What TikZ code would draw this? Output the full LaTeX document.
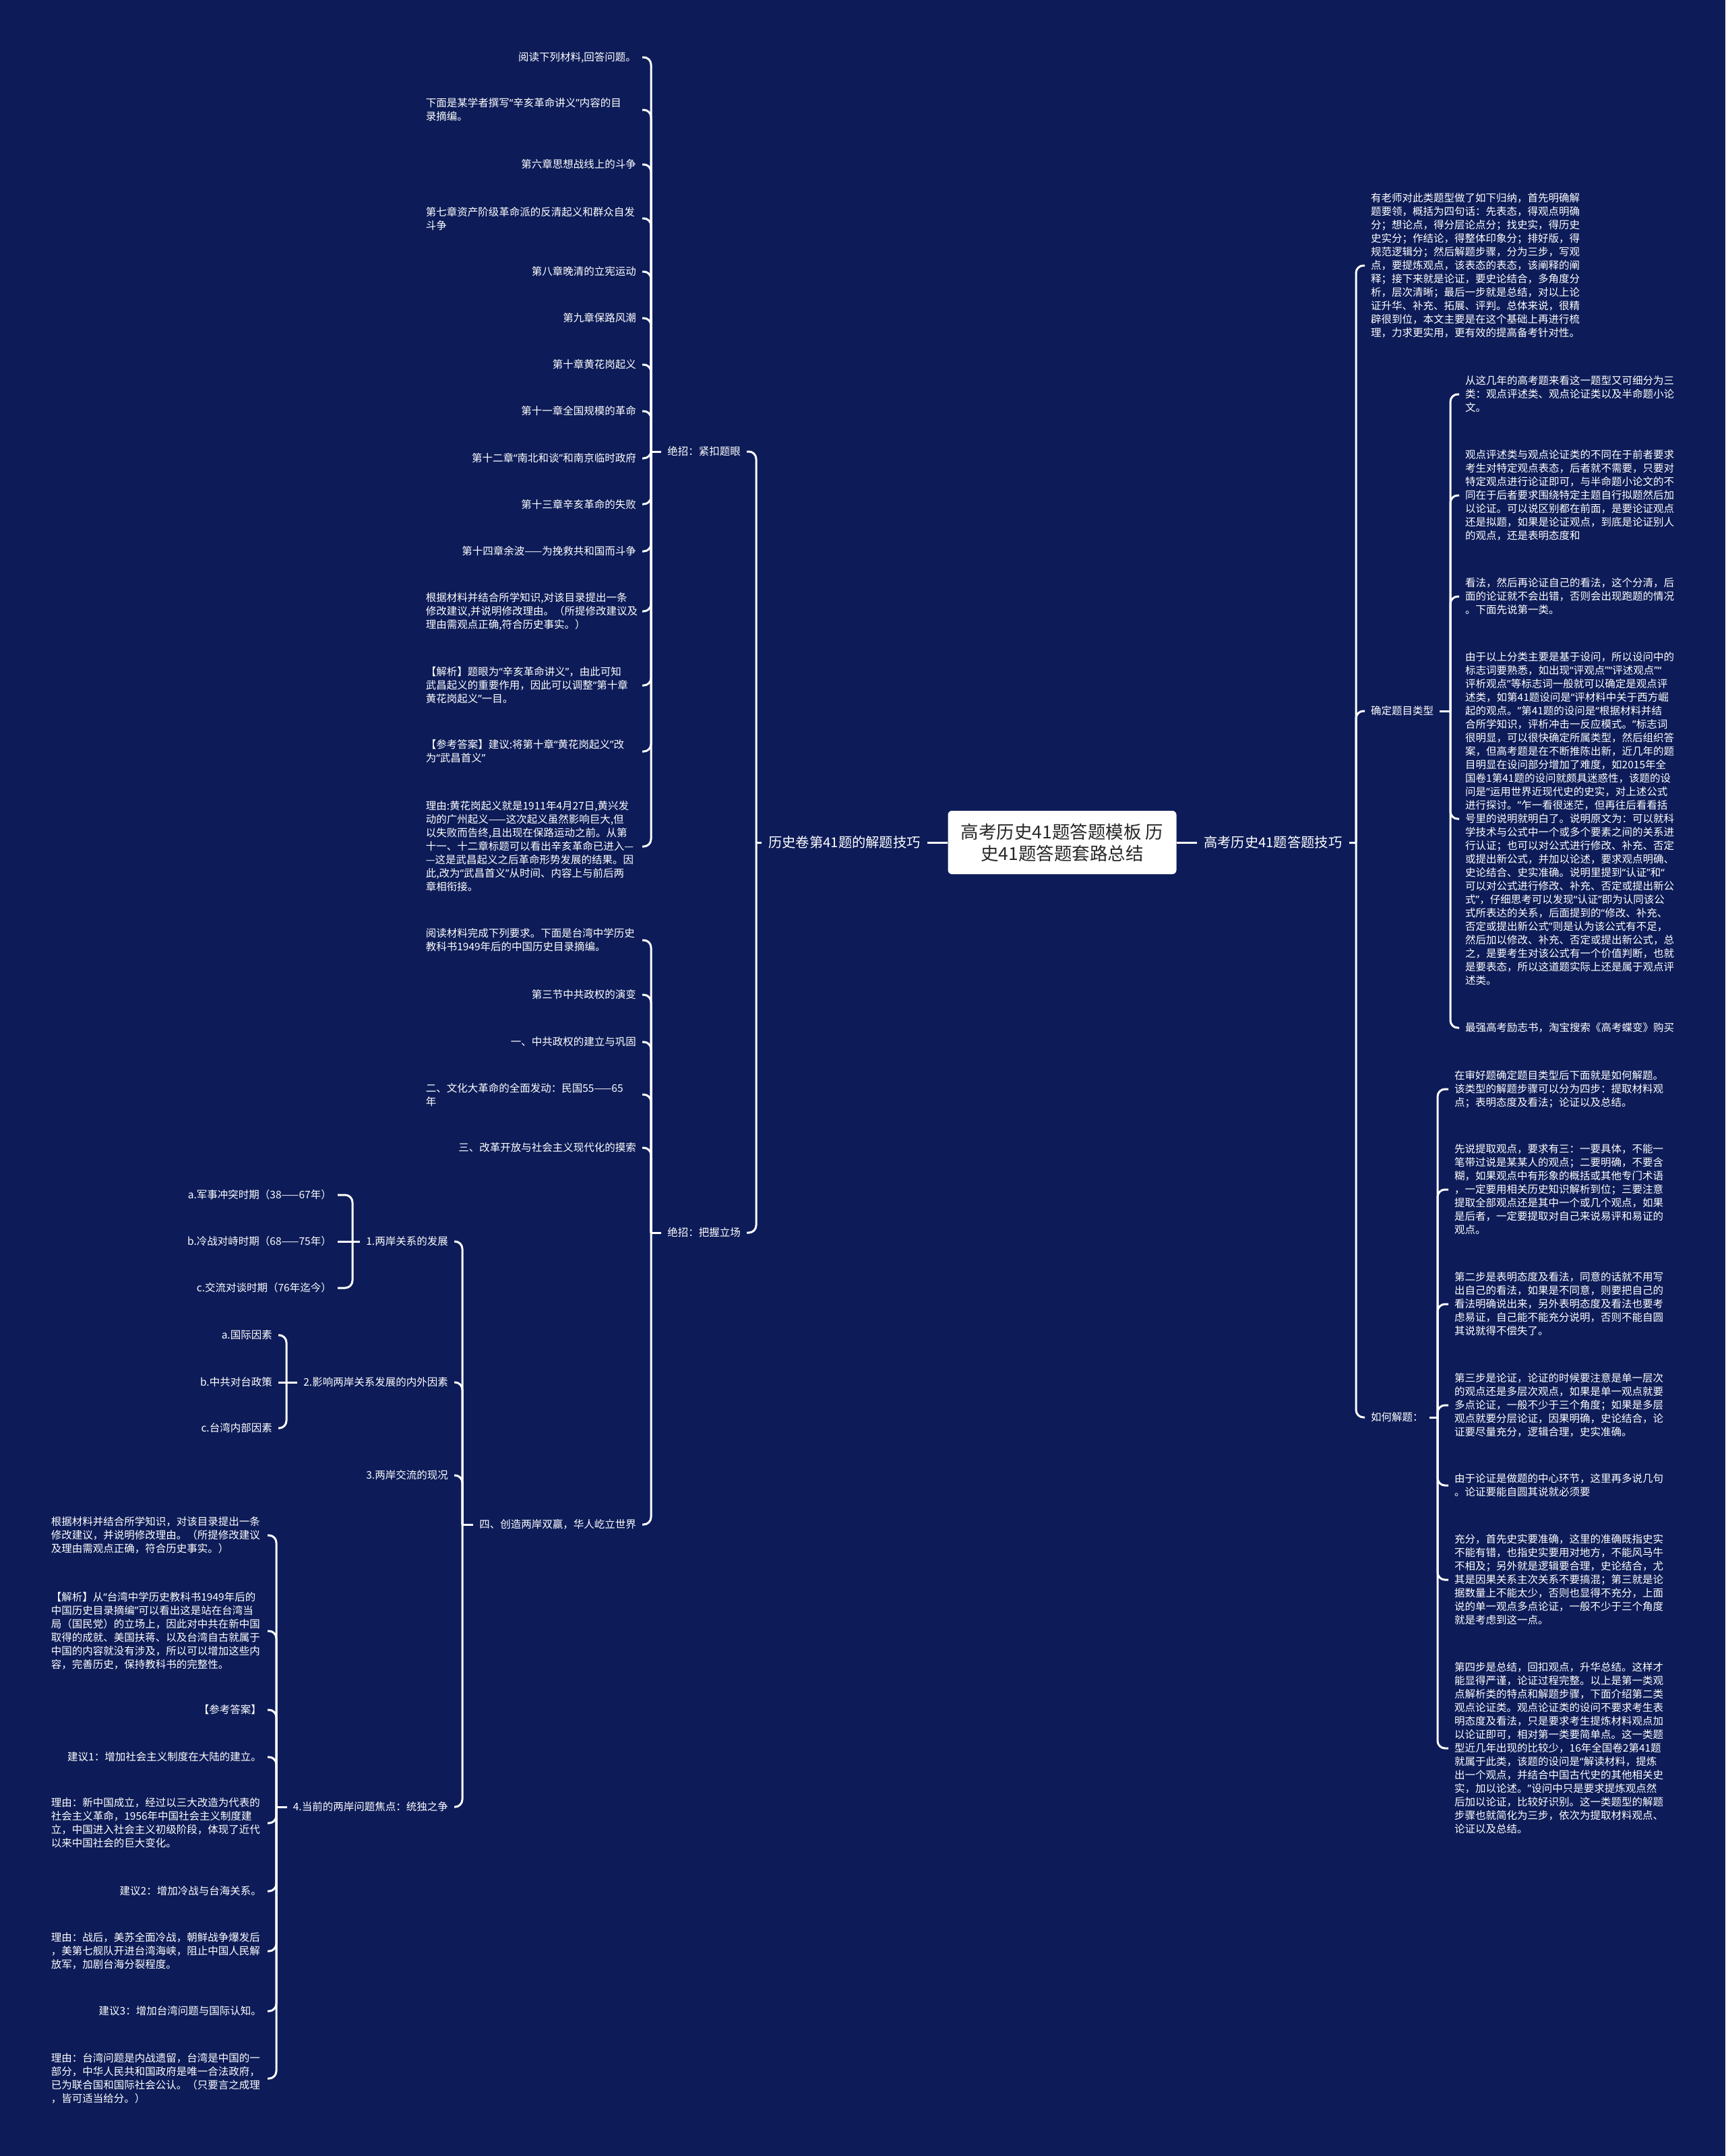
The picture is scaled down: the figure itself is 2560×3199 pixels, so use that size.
\documentclass[tikz,border=0pt]{standalone}
\usepackage{fontspec}
\newfontfamily\cjk{Noto Sans CJK SC}
\newfontfamily\qfont{Noto Sans}
\definecolor{bgblue}{RGB}{13,28,88}
\definecolor{boxtext}{RGB}{40,40,40}
\catcode`“=\active
\catcode`”=\active
\def“{{\qfont\char"201C}}
\def”{{\qfont\char"201D}}
\begin{document}
\begin{tikzpicture}[x=1pt,y=-1pt,
  every node/.style={text=white},
  base/.style={font=\cjk\fontsize{15.5}{20}\selectfont, inner xsep=9pt, inner ysep=2pt, align=left},
  lt/.style={base, anchor=east},
  ltm/.style={base, anchor=east, text width=312pt},
  rt/.style={base, anchor=west},
  lvl/.style={font=\cjk\fontsize{20.3}{24}\selectfont, inner xsep=10pt},
  conn/.style={draw=white, line width=3pt, rounded corners=11pt},
]
\fill[bgblue] (0,0) rectangle (2560,3199);
\useasboundingbox (0,0) rectangle (2560,3199);

% root
\node[fill=white, rounded corners=6pt, minimum width=339pt, minimum height=94pt, align=center, text=boxtext, font=\cjk\fontsize{26.5}{32}\selectfont] (root) at (1576,1250) {高考历史41题答题模板 历\\史41题答题套路总结};

% level 1
\node[lvl, anchor=east] (L) at (1376,1250) {历史卷第41题的解题技巧};
\node[lvl, anchor=west] (R) at (1776,1250) {高考历史41题答题技巧};
\coordinate (jL) at (1122,1250);
\coordinate (jR) at (2012,1250);
\draw[conn] (root.west) -- (L.east);
\draw[conn] (L.west) -- (jL);
\draw[conn] (root.east) -- (R.west);
\draw[conn] (R.east) -- (jR);

% level 2 left
\node[lt] (K) at (1108,670) {绝招：紧扣题眼};
\node[lt] (B) at (1108,1829) {绝招：把握立场};
\draw[conn] (jL) |- (K.east);
\draw[conn] (jL) |- (B.east);
\coordinate (jK) at (966,670);
\coordinate (jB) at (966,1829);
\draw[conn] (K.west) -- (jK);
\draw[conn] (B.west) -- (jB);

% children of K
\node[lt] (k1) at (953,85) {阅读下列材料,回答问题。};
\node[ltm] (k2) at (953,163) {下面是某学者撰写“辛亥革命讲义”内容的目\\录摘编。};
\node[lt] (k3) at (953,244) {第六章思想战线上的斗争};
\node[ltm] (k4) at (953,324) {第七章资产阶级革命派的反清起义和群众自发\\斗争};
\node[lt] (k5) at (953,403) {第八章晚清的立宪运动};
\node[lt] (k6) at (953,472) {第九章保路风潮};
\node[lt] (k7) at (953,541) {第十章黄花岗起义};
\node[lt] (k8) at (953,610) {第十一章全国规模的革命};
\node[lt] (k9) at (953,680) {第十二章“南北和谈”和南京临时政府};
\node[lt] (k10) at (953,748) {第十三章辛亥革命的失败};
\node[lt] (k11) at (953,818) {第十四章余波——为挽救共和国而斗争};
\node[ltm] (k12) at (953,907) {根据材料并结合所学知识,对该目录提出一条\\修改建议,并说明修改理由。（所提修改建议及\\理由需观点正确,符合历史事实。）};
\node[ltm] (k13) at (953,1017) {【解析】题眼为“辛亥革命讲义”，由此可知\\武昌起义的重要作用，因此可以调整“第十章\\黄花岗起义”一目。};
\node[ltm] (k14) at (953,1115) {【参考答案】建议:将第十章“黄花岗起义”改\\为“武昌首义”};
\node[ltm] (k15) at (953,1256) {理由:黄花岗起义就是1911年4月27日,黄兴发\\动的广州起义——这次起义虽然影响巨大,但\\以失败而告终,且出现在保路运动之前。从第\\十一、十二章标题可以看出辛亥革命已进入—\\—这是武昌起义之后革命形势发展的结果。因\\此,改为“武昌首义”从时间、内容上与前后两\\章相衔接。};
\foreach \n in {k1,k2,k3,k4,k5,k6,k7,k8,k9,k10,k11,k12,k13,k14,k15}
  \draw[conn] (jK) |- (\n.east);

% children of B
\node[ltm] (p1) at (953,1395) {阅读材料完成下列要求。下面是台湾中学历史\\教科书1949年后的中国历史目录摘编。};
\node[lt] (p2) at (953,1476) {第三节中共政权的演变};
\node[lt] (p3) at (953,1546) {一、中共政权的建立与巩固};
\node[ltm] (p4) at (953,1624) {二、文化大革命的全面发动：民国55——65\\年};
\node[lt] (p5) at (953,1703) {三、改革开放与社会主义现代化的摸索};
\node[lt] (S) at (953,2262) {四、创造两岸双赢，华人屹立世界};
\foreach \n in {p1,p2,p3,p4,p5,S}
  \draw[conn] (jB) |- (\n.east);

% children of S
\coordinate (jS) at (686,2262);
\draw[conn] (S.west) -- (jS);
\node[lt] (S1) at (674,1842) {1.两岸关系的发展};
\node[lt] (S2) at (674,2051) {2.影响两岸关系发展的内外因素};
\node[lt] (S3) at (674,2189) {3.两岸交流的现况};
\node[lt] (S4) at (674,2681) {4.当前的两岸问题焦点：统独之争};
\foreach \n in {S1,S2,S3,S4}
  \draw[conn] (jS) |- (\n.east);

% children of S1
\coordinate (jS1) at (523,1842);
\draw[conn] (S1.west) -- (jS1);
\node[lt] (a1) at (501,1773) {a.军事冲突时期（38——67年）};
\node[lt] (a2) at (501,1842) {b.冷战对峙时期（68——75年）};
\node[lt] (a3) at (501,1911) {c.交流对谈时期（76年迄今）};
\draw[conn] (jS1) |- (a1.east);
\draw[conn] (jS1) -- (a2.east);
\draw[conn] (jS1) |- (a3.east);

% children of S2
\coordinate (jS2) at (425,2051);
\draw[conn] (S2.west) -- (jS2);
\node[lt] (b1) at (413,1981) {a.国际因素};
\node[lt] (b2) at (413,2051) {b.中共对台政策};
\node[lt] (b3) at (413,2119) {c.台湾内部因素};
\draw[conn] (jS2) |- (b1.east);
\draw[conn] (jS2) -- (b2.east);
\draw[conn] (jS2) |- (b3.east);

% children of S4
\coordinate (jS4) at (410,2681);
\draw[conn] (S4.west) -- (jS4);
\node[ltm] (t1) at (397,2278) {根据材料并结合所学知识，对该目录提出一条\\修改建议，并说明修改理由。（所提修改建议\\及理由需观点正确，符合历史事实。）};
\node[ltm] (t2) at (397,2420) {【解析】从“台湾中学历史教科书1949年后的\\中国历史目录摘编”可以看出这是站在台湾当\\局（国民党）的立场上，因此对中共在新中国\\取得的成就、美国扶蒋、以及台湾自古就属于\\中国的内容就没有涉及，所以可以增加这些内\\容，完善历史，保持教科书的完整性。};
\node[lt] (t3) at (397,2537) {【参考答案】};
\node[lt] (t4) at (397,2607) {建议1：增加社会主义制度在大陆的建立。};
\node[ltm] (t5) at (397,2705) {理由：新中国成立，经过以三大改造为代表的\\社会主义革命，1956年中国社会主义制度建\\立，中国进入社会主义初级阶段，体现了近代\\以来中国社会的巨大变化。};
\node[lt] (t6) at (397,2806) {建议2：增加冷战与台海关系。};
\node[ltm] (t7) at (397,2895) {理由：战后，美苏全面冷战，朝鲜战争爆发后\\，美第七舰队开进台湾海峡，阻止中国人民解\\放军，加剧台海分裂程度。};
\node[lt] (t8) at (397,2984) {建议3：增加台湾问题与国际认知。};
\node[ltm] (t9) at (397,3084) {理由：台湾问题是内战遗留，台湾是中国的一\\部分，中华人民共和国政府是唯一合法政府，\\已为联合国和国际社会公认。（只要言之成理\\，皆可适当给分。）};
\foreach \n in {t1,t2,t3,t4,t5,t6,t7,t8,t9}
  \draw[conn] (jS4) |- (\n.east);

% level 2 right
\node[rt] (T) at (2025,394) {有老师对此类题型做了如下归纳，首先明确解\\题要领，概括为四句话：先表态，得观点明确\\分；想论点，得分层论点分；找史实，得历史\\史实分；作结论，得整体印象分；排好版，得\\规范逻辑分；然后解题步骤，分为三步，写观\\点，要提炼观点，该表态的表态，该阐释的阐\\释；接下来就是论证，要史论结合，多角度分\\析，层次清晰；最后一步就是总结，对以上论\\证升华、补充、拓展、评判。总体来说，很精\\辟很到位，本文主要是在这个基础上再进行梳\\理，力求更实用，更有效的提高备考针对性。};
\node[rt] (Q) at (2025,1055) {确定题目类型};
\node[rt] (H) at (2025,2103) {如何解题：};
\draw[conn] (jR) |- (T.west);
\draw[conn] (jR) |- (Q.west);
\draw[conn] (jR) |- (H.west);

% children of Q
\coordinate (jQ) at (2152,1055);
\draw[conn] (Q.east) -- (jQ);
\node[rt] (q1) at (2165,585) {从这几年的高考题来看这一题型又可细分为三\\类：观点评述类、观点论证类以及半命题小论\\文。};
\node[rt] (q2) at (2165,735) {观点评述类与观点论证类的不同在于前者要求\\考生对特定观点表态，后者就不需要，只要对\\特定观点进行论证即可，与半命题小论文的不\\同在于后者要求围绕特定主题自行拟题然后加\\以论证。可以说区别都在前面，是要论证观点\\还是拟题，如果是论证观点，到底是论证别人\\的观点，还是表明态度和};
\node[rt] (q3) at (2165,885) {看法，然后再论证自己的看法，这个分清，后\\面的论证就不会出错，否则会出现跑题的情况\\。下面先说第一类。};
\node[rt] (q4) at (2165,1215) {由于以上分类主要是基于设问，所以设问中的\\标志词要熟悉，如出现“评观点”“评述观点”“\\评析观点”等标志词一般就可以确定是观点评\\述类，如第41题设问是“评材料中关于西方崛\\起的观点。”第41题的设问是“根据材料并结\\合所学知识，评析冲击一反应模式。”标志词\\很明显，可以很快确定所属类型，然后组织答\\案，但高考题是在不断推陈出新，近几年的题\\目明显在设问部分增加了难度，如2015年全\\国卷1第41题的设问就颇具迷惑性，该题的设\\问是“运用世界近现代史的史实，对上述公式\\进行探讨。”乍一看很迷茫，但再往后看看括\\号里的说明就明白了。说明原文为：可以就科\\学技术与公式中一个或多个要素之间的关系进\\行认证；也可以对公式进行修改、补充、否定\\或提出新公式，并加以论述，要求观点明确、\\史论结合、史实准确。说明里提到“认证”和“\\可以对公式进行修改、补充、否定或提出新公\\式”，仔细思考可以发现“认证”即为认同该公\\式所表达的关系，后面提到的“修改、补充、\\否定或提出新公式”则是认为该公式有不足，\\然后加以修改、补充、否定或提出新公式，总\\之，是要考生对该公式有一个价值判断，也就\\是要表态，所以这道题实际上还是属于观点评\\述类。};
\node[rt] (q5) at (2165,1525) {最强高考励志书，淘宝搜索《高考蝶变》购买};
\foreach \n in {q1,q2,q3,q4,q5}
  \draw[conn] (jQ) |- (\n.west);

% children of H
\coordinate (jH) at (2133,2103);
\draw[conn] (H.east) -- (jH);
\node[rt] (h1) at (2149,1616) {在审好题确定题目类型后下面就是如何解题。\\该类型的解题步骤可以分为四步：提取材料观\\点；表明态度及看法；论证以及总结。};
\node[rt] (h2) at (2149,1765) {先说提取观点，要求有三：一要具体，不能一\\笔带过说是某某人的观点；二要明确，不要含\\糊，如果观点中有形象的概括或其他专门术语\\，一定要用相关历史知识解析到位；三要注意\\提取全部观点还是其中一个或几个观点，如果\\是后者，一定要提取对自己来说易评和易证的\\观点。};
\node[rt] (h3) at (2149,1935) {第二步是表明态度及看法，同意的话就不用写\\出自己的看法，如果是不同意，则要把自己的\\看法明确说出来，另外表明态度及看法也要考\\虑易证，自己能不能充分说明，否则不能自圆\\其说就得不偿失了。};
\node[rt] (h4) at (2149,2085) {第三步是论证，论证的时候要注意是单一层次\\的观点还是多层次观点，如果是单一观点就要\\多点论证，一般不少于三个角度；如果是多层\\观点就要分层论证，因果明确，史论结合，论\\证要尽量充分，逻辑合理，史实准确。};
\node[rt] (h5) at (2149,2204) {由于论证是做题的中心环节，这里再多说几句\\。论证要能自圆其说就必须要};
\node[rt] (h6) at (2149,2344) {充分，首先史实要准确，这里的准确既指史实\\不能有错，也指史实要用对地方，不能风马牛\\不相及；另外就是逻辑要合理，史论结合，尤\\其是因果关系主次关系不要搞混；第三就是论\\据数量上不能太少，否则也显得不充分，上面\\说的单一观点多点论证，一般不少于三个角度\\就是考虑到这一点。};
\node[rt] (h7) at (2149,2594) {第四步是总结，回扣观点，升华总结。这样才\\能显得严谨，论证过程完整。以上是第一类观\\点解析类的特点和解题步骤，下面介绍第二类\\观点论证类。观点论证类的设问不要求考生表\\明态度及看法，只是要求考生提炼材料观点加\\以论证即可，相对第一类要简单点。这一类题\\型近几年出现的比较少，16年全国卷2第41题\\就属于此类，该题的设问是“解读材料，提炼\\出一个观点，并结合中国古代史的其他相关史\\实，加以论述。”设问中只是要求提炼观点然\\后加以论证，比较好识别。这一类题型的解题\\步骤也就简化为三步，依次为提取材料观点、\\论证以及总结。};
\foreach \n in {h1,h2,h3,h4,h5,h6,h7}
  \draw[conn] (jH) |- (\n.west);
\end{tikzpicture}
\end{document}
